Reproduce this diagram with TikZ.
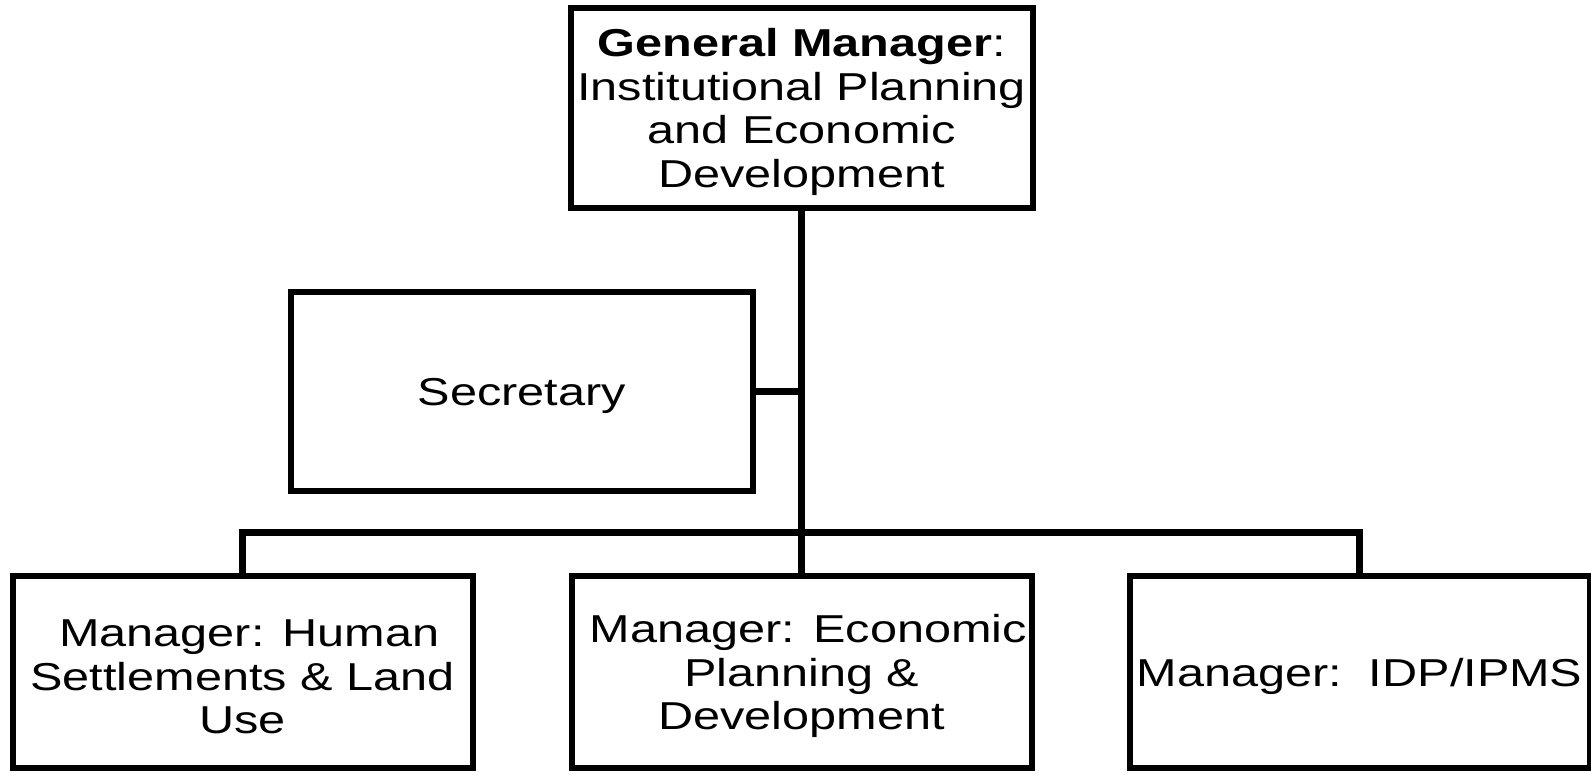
\documentclass[tikz,border=0pt]{standalone}
\usepackage{fontspec}
\setmainfont[FakeStretch=1.25]{Liberation Sans}
\newcommand{\mystrut}{\rule{0pt}{36.5pt}}
\begin{document}
\begin{tikzpicture}[x=1pt,y=-1pt,
  box/.style={draw, line width=6pt, line join=miter, inner sep=0pt, align=center,
    font=\fontsize{38.9}{43.5}\selectfont},
  topbox/.style={box, minimum width=462pt, minimum height=200pt},
  secbox/.style={box, minimum width=462pt, minimum height=199pt},
  botbox/.style={box, minimum width=460pt, minimum height=192pt},
  link/.style={line width=6.5pt, line join=miter}]
\useasboundingbox (0,0) rectangle (1591,775);
\node[topbox] (gm) at (801.7,108) {\mystrut\textbf{General Manager}:\\Institutional Planning\\and Economic\\Development};
\node[secbox] (sec) at (522,391.7) {\mystrut Secretary};
\node[botbox] (b1) at (242.5,672) {\mystrut\ Manager: Human\\Settlements \& Land\\Use};
\node[botbox] (b2) at (801.7,672) {\mystrut\ Manager: Economic\\Planning \&\\Development};
\node[botbox] (b3) at (1359.5,672) {\mystrut Manager:\ \ IDP/IPMS};
\coordinate (bus) at (801.7,532.7);
\draw[link] (gm.south) -- (b2.north);
\draw[link] (sec.east) -- (sec.east -| gm.south);
\draw[link] (b1.north) -- (b1.north |- bus) -- (b3.north |- bus) -- (b3.north);
\end{tikzpicture}
\end{document}
